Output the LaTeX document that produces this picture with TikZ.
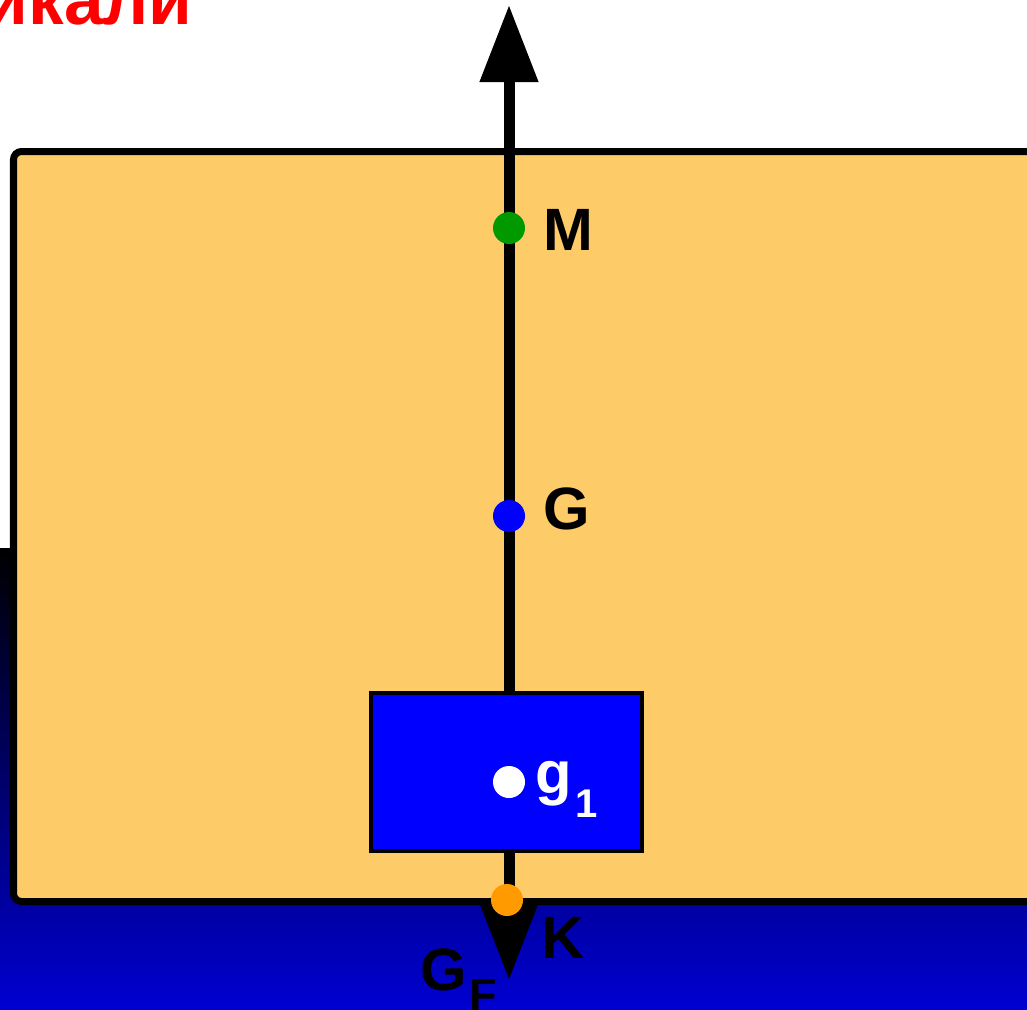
\documentclass[tikz,border=0pt]{standalone}
\usepackage{fontspec}
\setmainfont{Liberation Sans}
\usetikzlibrary{arrows.meta,positioning}
\definecolor{Hull}{HTML}{FECB69}
\definecolor{Water}{HTML}{0000D4}
\definecolor{Ballast}{HTML}{0000FF}
\definecolor{MetaGreen}{HTML}{009A00}
\definecolor{KeelOrange}{HTML}{FF9A00}
\definecolor{TitleRed}{HTML}{FF0000}

\begin{document}
\begin{tikzpicture}[
    x=0.2mm, y=-0.2mm,
    hull/.style={
      rounded corners=1.6mm,
      minimum width=207.3mm,
      minimum height=150mm,
      inner sep=0pt, outer sep=0pt,
      draw=black,
      line width=1.4mm,
      fill=Hull
    },
    ballast/.style={
      minimum width=54.2mm,
      minimum height=31.6mm,
      inner sep=0pt,
      draw=black,
      line width=0.8mm,
      fill=Ballast
    },
    dot/.style={circle, minimum size=6.4mm, inner sep=0pt},
    tag/.style={inner sep=0pt, font=\fontsize{34}{40}\selectfont\bfseries},
    axis/.style={
      {Triangle[length=15.4mm, width=11.2mm]}-{Triangle[length=15.4mm, width=11.2mm]},
      draw=black, line width=2.2mm
    }
  ]
    \useasboundingbox[fill=white] (0,0) rectangle (1027,1010);
    % water behind the hull
    \fill[top color=black, bottom color=Water] (0,548) rectangle (1060,1015);
    \node[hull, anchor=north west] (hull) at (13.5,151.5) {};

    \coordinate (keel tip) at (509,980);
    \coordinate (top tip) at (509,5);
    \draw[axis] (keel tip) -- (top tip);

    \node[ballast] (box) at (506.5,772) {};

    \node[dot, fill=MetaGreen] (M) at (509,228) {};
    \node[dot, fill=Ballast] (G) at (509,516) {};
    \node[dot, fill=white] (g1) at (509,782) {};
    \node[dot, fill=KeelOrange] (K) at (507,900) {};

    \node[tag, right=3.5mm of M, yshift=-0.4mm] (M label) {M};
    \node[tag, right=3.5mm of G, yshift=1.5mm] (G label) {G};
    \node[tag, anchor=base west] (K label) at (541,958) {K};
    \node[tag, anchor=base west] (GF label) at (420,990)
      {G\hspace{0.6mm}\raisebox{-4mm}{\fontsize{25.6}{30}\selectfont F}};
    \node[tag, text=white, anchor=base west] (g1 label) at (535,793)
      {g\hspace{0.8mm}\raisebox{-4.8mm}{\fontsize{22.8}{28}\selectfont 1}};

    \node[inner sep=0pt, anchor=base east, text=TitleRed,
      font=\fontsize{40.5}{48}\selectfont\bfseries] (title) at (193,24) {икали};
  \end{tikzpicture}
\end{document}
